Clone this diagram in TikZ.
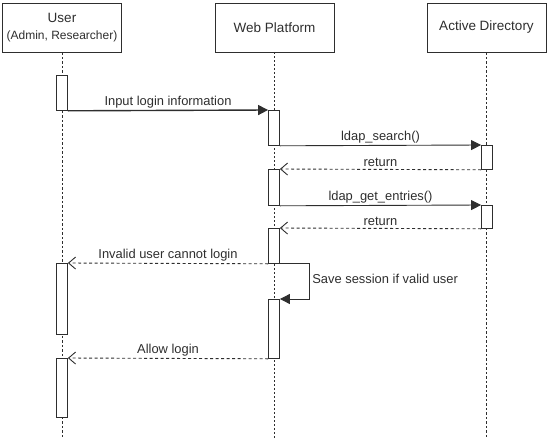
\documentclass[tikz,border=0pt]{standalone}
\usepackage{fontspec}
\setmainfont{Liberation Sans}
\usetikzlibrary{arrows.meta}
\definecolor{ink}{HTML}{2E2E2E}
\tikzset{
  actor/.style={draw=ink, line width=0.9pt, minimum width=119pt, minimum height=49pt, align=center, text=ink, font=\fontsize{13.5}{16}\selectfont},
  bar/.style={draw=ink, fill=white, line width=0.8pt, minimum width=11pt, anchor=north, inner sep=0pt},
  lifeline/.style={draw=ink, line width=0.9pt, dash pattern=on 2.5pt off 2pt},
  msg/.style={draw=ink, line width=0.9pt, -{Triangle[length=10pt,width=10pt]}},
  ret/.style={draw=ink, line width=0.9pt, dash pattern=on 3pt off 2.5pt, -{Straight Barb[length=7pt,width=12pt,line width=0.9pt]}},
  lbl/.style={text=ink, inner sep=2pt, font=\fontsize{12.9}{15}\selectfont}
}
\begin{document}
\begin{tikzpicture}[x=1pt,y=-1pt]
\useasboundingbox (0,0) rectangle (548,439);
% participants
\node[actor] (user) at (62,27.5) {User\\[1pt]{\fontsize{12}{14}\selectfont(Admin, Researcher)}};
\node[actor] (web) at (274.5,27.5) {Web Platform};
\node[actor] (ad) at (486.5,27.5) {Active Directory};
\coordinate (uend) at (62,439);
\coordinate (wend) at (274.5,439);
\coordinate (aend) at (486.5,439);
\draw[lifeline] (user) -- (uend);
\draw[lifeline, line width=1.3pt, dash pattern=on 2pt off 2pt] (web) -- (wend);
\draw[lifeline] (ad) -- (aend);
% activations
\node[bar, minimum height=35pt] (u1) at (62,75) {};
\node[bar, minimum height=71pt] (u2) at (62,263) {};
\node[bar, minimum height=59pt] (u3) at (62,358) {};
\node[bar, minimum height=35pt] (w1) at (274,110) {};
\node[bar, minimum height=36pt] (w2) at (274,169) {};
\node[bar, minimum height=35pt] (w3) at (274,228) {};
\node[bar, minimum height=59pt] (w4) at (274,299) {};
\node[bar, minimum height=24pt] (a1) at (487,145) {};
\node[bar, minimum height=23pt] (a2) at (487,205) {};
% messages
\draw[msg, line width=1.4pt] (u1.south east) -- node[above, lbl] {Input login information} (w1.north west);
\draw[msg] (w1.south east) -- node[above, lbl] {ldap\_search()} (a1.north west);
\draw[ret] (a1.south west) -- node[above, lbl] {return} (w2.north east);
\draw[msg] (w2.south east) -- node[above, lbl] {ldap\_get\_entries()} (a2.north west);
\draw[ret] (a2.south west) -- node[above, lbl] {return} (w3.north east);
\draw[ret] (w3.south west) -- node[above, lbl] {Invalid user cannot login} (u2.north east);
\draw[msg] (w3.south east) -- ++(30,0) |- node[pos=0.22, right, lbl] {Save session if valid user} (w4.north east);
\draw[ret] (w4.south west) -- node[above, lbl] {Allow login} (u3.north east);
\end{tikzpicture}
\end{document}
